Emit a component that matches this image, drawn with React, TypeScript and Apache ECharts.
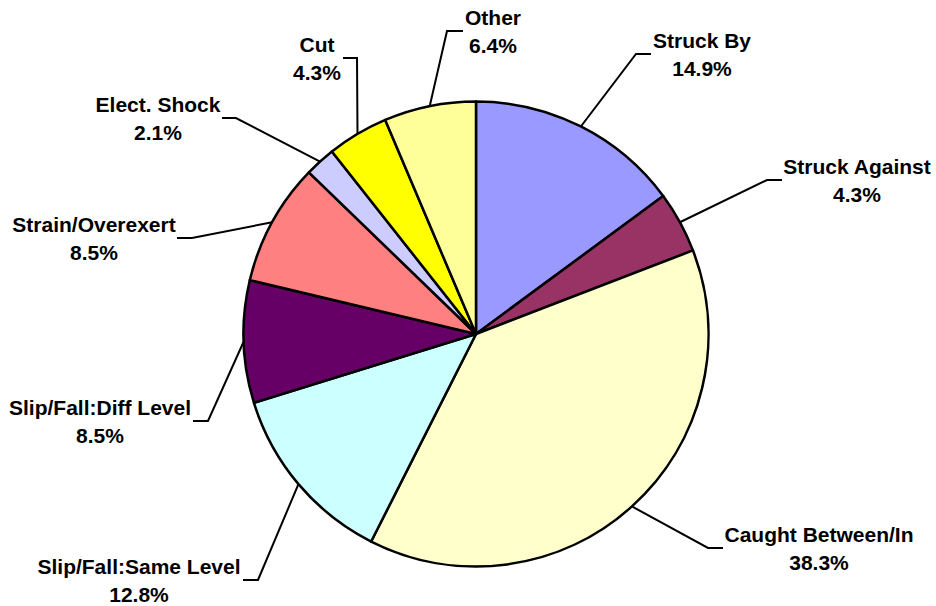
import React, { useEffect, useRef } from 'react';
import * as echarts from 'echarts';

// ---- data ----
const categories = [
  'Struck By',
  'Struck Against',
  'Caught Between/In',
  'Slip/Fall:Same Level',
  'Slip/Fall:Diff Level',
  'Strain/Overexert',
  'Elect. Shock',
  'Cut',
  'Other',
];
const counts = [7, 2, 18, 6, 4, 4, 1, 2, 3];
const colors = ['#9999FF', '#993366', '#FFFFCC', '#CCFFFF', '#660066', '#FF8080', '#CCCCFF', '#FFFF00', '#FFFF99'];

// ---- label layout (px positions, not data) ----
const labelCenters: number[][] = [
  [702, 54], [857, 180], [819, 548], [139, 580], [100, 421], [94, 238], [158, 118], [317, 58], [493, 31],
];
const labelElbows: number[][] = [
  [636, 54], [767, 180], [708, 548], [258, 580], [208, 421], [192, 238], [236, 118], [357, 58], [447, 31],
];
const labelEnds: number[][] = [
  [651, 54], [782, 180], [723, 548], [243, 580], [193, 421], [177, 238], [222, 118], [343, 58], [463, 31],
];

const CX = 476;
const CY = 334;
const R = 232.5;

export default function App() {
  const ref = useRef<HTMLDivElement>(null);
  useEffect(() => {
    if (!ref.current) return;
    const chart = echarts.init(ref.current, undefined, { renderer: 'svg' });
    const total = counts.reduce((a, b) => a + b, 0);
    const data = categories.map((name, i) => ({
      name,
      value: counts[i],
      itemStyle: { color: colors[i] },
    }));
    chart.setOption({
      animation: false,
      backgroundColor: '#ffffff',
      series: [
        {
          type: 'pie',
          center: [CX, CY],
          radius: R,
          startAngle: 90,
          clockwise: true,
          data,
          silent: true,
          emphasis: { disabled: true },
          itemStyle: { borderColor: '#000000', borderWidth: 2.5 },
          label: {
            show: true,
            position: 'outside',
            formatter: (p: any) => `${p.name}\n${((p.value / total) * 100).toFixed(1)}%`,
            fontFamily: 'Liberation Sans, Arial, sans-serif',
            fontWeight: 'bold',
            fontSize: 21,
            lineHeight: 28,
            color: '#000000',
            align: 'center',
          },
          labelLine: {
            show: true,
            lineStyle: { color: '#000000', width: 2 },
          },
          labelLayout: (params: any) => {
            const i = params.dataIndex;
            let anchor = params.labelLinePoints && params.labelLinePoints[0];
            if (!anchor) {
              let cum = 0;
              for (let k = 0; k < i; k++) cum += counts[k];
              const mid = ((cum + counts[i] / 2) / total) * Math.PI * 2;
              anchor = [CX + R * Math.sin(mid), CY - R * Math.cos(mid)];
            }
            return {
              x: labelCenters[i][0],
              y: labelCenters[i][1],
              align: 'center',
              verticalAlign: 'middle',
              labelLinePoints: [anchor, labelElbows[i], labelEnds[i]],
            };
          },
        },
      ],
    });
    return () => chart.dispose();
  }, []);
  return (
    <div
      ref={ref}
      style={{ position: 'fixed', left: 0, top: 0, width: 936, height: 606, background: '#fff' }}
    />
  );
}
